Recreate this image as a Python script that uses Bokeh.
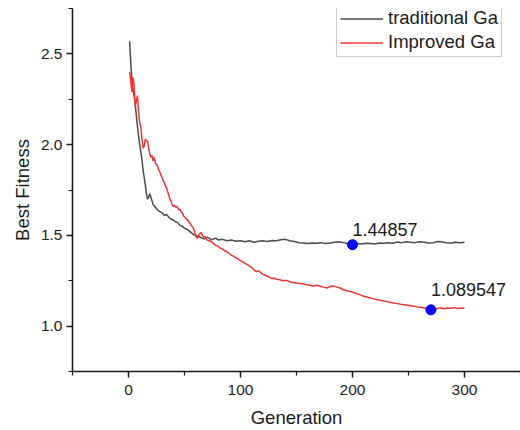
from bokeh.plotting import figure
from bokeh.models import Range1d, SingleIntervalTicker, NumeralTickFormatter, ColumnDataSource, LabelSet, Legend, LegendItem
from bokeh.core.properties import value
from bokeh.embed import file_html
from bokeh.resources import INLINE

trad_gen = [1, 2, 3, 4, 5, 6, 7, 8, 9, 10, 11, 12, 13, 14, 15, 16, 17, 18, 19, 20,
            21, 22, 24, 26, 28, 30, 32, 34, 36, 38, 40, 42, 44, 46, 48, 50, 52, 54, 56, 58,
            60, 62, 64, 66, 68, 70, 72, 74, 76, 78, 80, 84, 88, 92, 96, 100, 104, 108, 112, 116,
            120, 124, 128, 132, 136, 140, 144, 148, 152, 156, 160, 164, 168, 172, 176, 180, 184, 188, 192, 196,
            200, 204, 208, 212, 216, 220, 224, 228, 232, 236, 240, 244, 248, 252, 256, 260, 264, 268, 272, 276,
            280, 284, 288, 292, 296, 300]
trad_fit = [2.57, 2.45, 2.36, 2.30, 2.27, 2.22, 2.16, 2.10, 2.05, 2.00, 1.96, 1.92, 1.86, 1.82, 1.78, 1.73, 1.70, 1.71, 1.73, 1.71,
            1.69, 1.67, 1.655, 1.64, 1.63, 1.625, 1.61, 1.615, 1.60, 1.59, 1.585, 1.575, 1.57, 1.555, 1.55, 1.54, 1.535, 1.525, 1.515, 1.505,
            1.50, 1.495, 1.49, 1.485, 1.48, 1.49, 1.485, 1.475, 1.48, 1.485, 1.475, 1.478, 1.47, 1.475, 1.468, 1.47, 1.465, 1.47, 1.462, 1.468,
            1.47, 1.466, 1.472, 1.47, 1.476, 1.478, 1.47, 1.466, 1.46, 1.458, 1.455, 1.458, 1.456, 1.46, 1.455, 1.458, 1.462, 1.465, 1.46, 1.454,
            1.449, 1.455, 1.452, 1.457, 1.455, 1.453, 1.458, 1.456, 1.46, 1.457, 1.463, 1.46, 1.465, 1.462, 1.46, 1.465, 1.462, 1.458, 1.46, 1.466,
            1.463, 1.46, 1.458, 1.462, 1.46, 1.462]

imp_gen = [1, 2, 3, 4, 5, 6, 7, 8, 9, 10, 11, 12, 13, 14, 15, 16, 17, 18, 19, 20,
           21, 22, 23, 24, 25, 26, 27, 28, 29, 30, 31, 32, 33, 34, 35, 36, 37, 38, 39, 40,
           41, 42, 43, 44, 45, 46, 47, 48, 49, 50, 52, 54, 56, 58, 59, 60, 61, 62, 63, 64,
           65, 66, 67, 68, 70, 72, 74, 76, 78, 80, 82, 84, 86, 88, 90, 92, 94, 96, 98, 100,
           102, 104, 106, 108, 110, 112, 114, 116, 118, 120, 122, 124, 126, 128, 130, 132, 135, 138, 141, 144,
           147, 150, 153, 156, 159, 162, 165, 168, 171, 174, 177, 180, 183, 186, 189, 192, 195, 198, 201, 204,
           207, 210, 213, 216, 219, 222, 225, 228, 231, 234, 237, 240, 243, 246, 249, 252, 255, 258, 261, 264,
           267, 270, 273, 276, 279, 282, 285, 288, 291, 294, 297, 300]
imp_fit = [2.40, 2.35, 2.29, 2.37, 2.33, 2.21, 2.24, 2.27, 2.18, 2.12, 2.10, 2.03, 1.98, 1.99, 2.03, 2.02, 2.02, 1.98, 1.95, 1.93,
           1.94, 1.91, 1.93, 1.90, 1.89, 1.88, 1.86, 1.85, 1.83, 1.82, 1.80, 1.79, 1.77, 1.76, 1.74, 1.72, 1.70, 1.69, 1.67, 1.66,
           1.665, 1.655, 1.66, 1.65, 1.64, 1.645, 1.63, 1.625, 1.61, 1.60, 1.59, 1.575, 1.555, 1.54, 1.52, 1.50, 1.485, 1.49, 1.505, 1.51,
           1.515, 1.50, 1.49, 1.495, 1.475, 1.47, 1.465, 1.455, 1.445, 1.44, 1.43, 1.425, 1.415, 1.41, 1.40, 1.39, 1.385, 1.375, 1.37, 1.36,
           1.355, 1.345, 1.34, 1.33, 1.325, 1.31, 1.30, 1.305, 1.295, 1.285, 1.28, 1.275, 1.27, 1.262, 1.265, 1.258, 1.255, 1.25, 1.252, 1.245,
           1.24, 1.238, 1.235, 1.232, 1.228, 1.225, 1.22, 1.225, 1.22, 1.215, 1.21, 1.218, 1.222, 1.215, 1.21, 1.20, 1.195, 1.19, 1.185, 1.178,
           1.172, 1.165, 1.16, 1.155, 1.15, 1.145, 1.142, 1.138, 1.135, 1.13, 1.127, 1.124, 1.12, 1.118, 1.115, 1.112, 1.11, 1.106, 1.104, 1.10,
           1.095, 1.0895, 1.093, 1.097, 1.10, 1.096, 1.10, 1.098, 1.102, 1.097, 1.10, 1.098]

mark_gen = [200, 270]
mark_fit = [1.44857, 1.089547]
mark_text = ["1.44857", "1.089547"]
mark_lift = [9, 14]

series_names = ["traditional Ga", "Improved Ga"]
x_ticks_interval = 100
y_ticks_interval = 0.5

FONT = "Liberation Sans"

p = figure(width=520, height=430, x_range=Range1d(-50, 350), y_range=Range1d(0.75, 2.75),
           output_backend="svg", toolbar_location=None,
           min_border_left=72, min_border_right=0, min_border_top=8, min_border_bottom=57)
p.xgrid.visible = False
p.ygrid.visible = False
p.outline_line_color = None
p.background_fill_color = "white"

p.xaxis.ticker = SingleIntervalTicker(interval=x_ticks_interval, num_minor_ticks=2)
p.yaxis.ticker = SingleIntervalTicker(interval=y_ticks_interval, num_minor_ticks=2)
p.yaxis.formatter = NumeralTickFormatter(format="0.0")

for ax in (p.xaxis[0], p.yaxis[0]):
    ax.axis_line_color = "#1a1a1a"
    ax.axis_line_width = 1.6
    ax.major_tick_line_color = "#1a1a1a"
    ax.minor_tick_line_color = "#1a1a1a"
    ax.major_tick_line_width = 1.4
    ax.minor_tick_line_width = 1.2
    ax.major_tick_in = 0
    ax.major_tick_out = 6
    ax.minor_tick_in = 0
    ax.minor_tick_out = 4
    ax.major_label_text_font = FONT
    ax.major_label_text_font_size = "15.5px"
    ax.major_label_text_color = "#1a1a1a"
    ax.axis_label_text_font = FONT
    ax.axis_label_text_font_size = "18.5px"
    ax.axis_label_text_font_style = "normal"
    ax.axis_label_text_color = "#1a1a1a"

p.xaxis.axis_label = "Generation"
p.yaxis.axis_label = "Best Fitness"
p.xaxis.major_label_standoff = 7
p.xaxis.axis_label_standoff = 9
p.yaxis.major_label_standoff = 4
p.yaxis.axis_label_standoff = 5

r1 = p.line(trad_gen, trad_fit, line_color="#4a4a4a", line_width=1.5)
r2 = p.line(imp_gen, imp_fit, line_color="#ef3535", line_width=1.5)

p.scatter(mark_gen, mark_fit, size=10, fill_color="#0000ff", line_color="#0000ff")

src = ColumnDataSource(dict(x=mark_gen, y=mark_fit, t=mark_text, lift=mark_lift))
labels = LabelSet(x="x", y="y", text="t", source=src, y_offset="lift", x_offset=0,
                  text_align="left", text_baseline="bottom",
                  text_font=value(FONT), text_font_size=value("18px"), text_color="#1a1a1a")
p.add_layout(labels)

legend = Legend(items=[LegendItem(label=series_names[0], renderers=[r1]),
                       LegendItem(label=series_names[1], renderers=[r2])],
                location=(264, 314), orientation="vertical")
legend.label_text_font = FONT
legend.label_text_font_size = "18.5px"
legend.label_text_color = "#1a1a1a"
legend.glyph_width = 43
legend.glyph_height = 21
legend.label_height = 21
legend.label_standoff = 5
legend.spacing = 2
legend.padding = 3
legend.margin = 0
legend.border_line_color = "#9a9a9a"
legend.border_line_width = 1
legend.background_fill_color = "white"
legend.background_fill_alpha = 1
p.add_layout(legend, "center")

open("out.html", "w").write(file_html(p, INLINE))
